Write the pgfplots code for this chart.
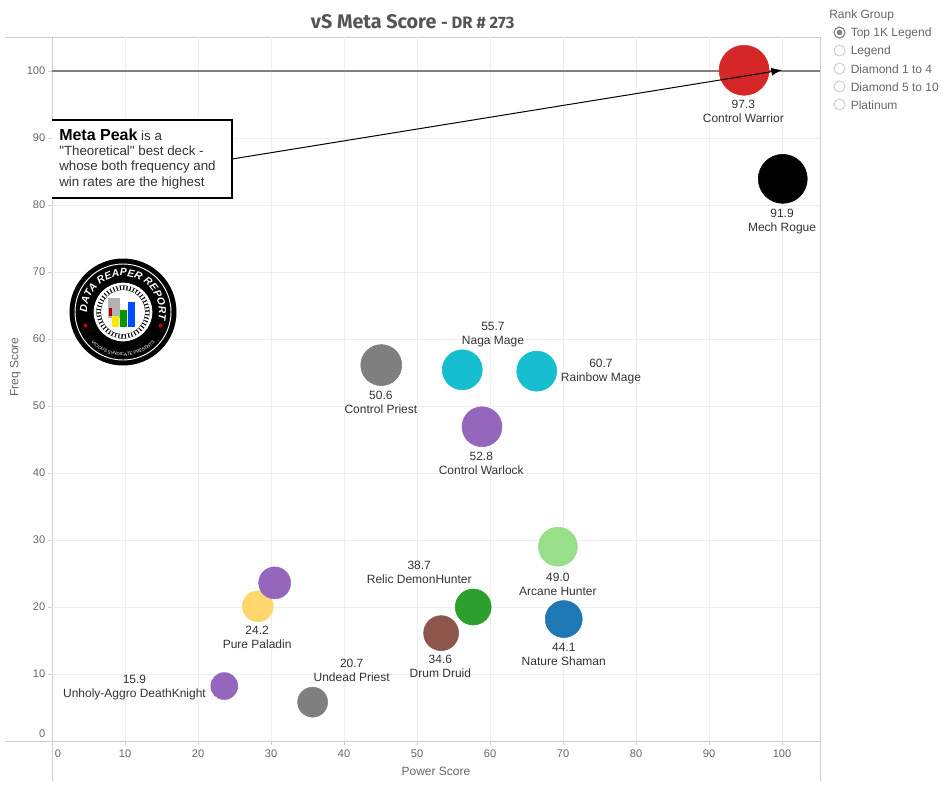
\documentclass[border=0pt]{standalone}
\usepackage{fontspec}
\setmainfont{Liberation Sans}
\newfontfamily\titlefont{Fira Sans}
\newfontfamily\qfont{Liberation Sans}
\usepackage{pgfplots}
\pgfplotsset{compat=1.18}
\usetikzlibrary{decorations.text,arrows.meta}

\definecolor{txt}{HTML}{333333}
\definecolor{ticktxt}{HTML}{666666}
\definecolor{titletxt}{HTML}{555555}
\definecolor{gridc}{HTML}{EEEEEE}
\definecolor{framec}{HTML}{D0D0D0}
\definecolor{tred}{HTML}{D62728}
\definecolor{tcyan}{HTML}{17BECF}
\definecolor{tpurple}{HTML}{9467BD}
\definecolor{tlgreen}{HTML}{98DF8A}
\definecolor{tblue}{HTML}{1F77B4}
\definecolor{tgreen}{HTML}{2CA02C}
\definecolor{tbrown}{HTML}{8C564B}
\definecolor{tyellow}{HTML}{FFD76E}
\definecolor{tgray}{HTML}{7F7F7F}

% mark size is in pixels of the reference: 1px = 0.75pt
\newcommand{\bubble}[4]{\addplot[only marks,mark=*,mark size=#4*0.75pt,color=#1,mark options={draw=#1,fill=#1}] coordinates {(#2,#3)};}
\newcommand{\lab}[4]{\node[font=\fontsize{9}{10.5}\selectfont,text=txt,align=center,inner sep=0pt] at (axis cs:#1,#2) {#3\\#4};}

\begin{document}
\begin{tikzpicture}[x=0.75pt,y=-0.75pt]
\path[use as bounding box] (0,0) rectangle (945,793);

% frame, runs past the axis as in the reference
\draw[framec,line width=0.75pt] (5,37) -- (820,37) (5,741) -- (820,741) (52,37) -- (52,782) (820,37) -- (820,782);

\begin{axis}[
    at={(39pt,-555.75pt)}, anchor=south west,
    scale only axis, width=576pt, height=528pt,
    xmin=0, xmax=105.2, ymin=0, ymax=105.07,
    axis line style={draw=none},
    clip=false,
    grid=major, major grid style={gridc,line width=0.6pt},
    xtick={10,20,...,100}, ytick={10,20,...,100},
    extra x ticks={0}, extra y ticks={0},
    extra x tick style={grid=none,xticklabel style={xshift=4.5pt}},
    extra y tick style={grid=none,yticklabel style={yshift=5.5pt}},
    tick align=outside, tick pos=left,
    major tick length=3pt,
    every tick/.style={framec,line width=0.6pt},
    ticklabel style={font=\fontsize{8.3}{10}\selectfont,text=ticktxt},
    /pgf/number format/assume math mode=true,
    xticklabel pos=lower,
    yticklabel style={xshift=1.5pt},
    xlabel={Power Score}, ylabel={Freq Score},
    label style={font=\fontsize{9}{10}\selectfont,text=ticktxt},
    xlabel style={at={(axis cs:52.6,-4.6)},anchor=center},
    ylabel style={at={(axis cs:-5.0,55.8)},anchor=center},
    title style={font=\titlefont\bfseries,text=titletxt,at={(axis cs:49.4,106.1)},anchor=center},
    title={\fontsize{14.8}{16}\selectfont vS Meta Score {\fontsize{12.4}{16}\selectfont - DR \# 273}},
]
% meta peak line
\addplot[color=gray,line width=1.5pt,forget plot] coordinates {(0,100) (105.2,100)};

\bubble{tred}{94.8}{100.1}{25}
\bubble{black}{100.1}{83.9}{24.5}
\bubble{tgray}{45.1}{56.1}{20.5}
\bubble{tcyan}{56.2}{55.4}{20}
\bubble{tcyan}{66.4}{55.2}{20}
\bubble{tpurple}{58.9}{46.9}{20}
\bubble{tlgreen}{69.3}{29.0}{19.5}
\bubble{tblue}{70.1}{18.2}{18.5}
\bubble{tgreen}{57.7}{20.0}{18}
\bubble{tbrown}{53.3}{16.1}{17.5}
\bubble{tyellow}{28.2}{20.1}{15.5}
\bubble{tpurple}{30.5}{23.6}{16}
\bubble{tpurple}{23.6}{8.2}{13.5}
\bubble{tgray}{35.7}{5.8}{15}

% labels
\lab{94.7}{93.97}{97.3}{Control Warrior}
\lab{100.0}{77.6}{91.9}{Mech Rogue}
\lab{60.4}{60.7}{55.7}{Naga Mage}
\lab{75.2}{55.1}{60.7}{Rainbow Mage}
\lab{45.05}{50.6}{50.6}{Control Priest}
\lab{58.8}{41.5}{52.8}{Control Warlock}
\lab{69.3}{23.4}{49.0}{Arcane Hunter}
\lab{70.1}{12.95}{44.1}{Nature Shaman}
\lab{50.3}{25.1}{38.7}{Relic DemonHunter}
\lab{53.2}{11.2}{34.6}{Drum Druid}
\lab{28.1}{15.4}{24.2}{Pure Paladin}
\lab{41.05}{10.5}{20.7}{Undead Priest}
\lab{11.3}{8.0}{15.9}{Unholy-Aggro DeathKnight}
\end{axis}

% callout
\fill[white] (52,120) rectangle (232,198);
\draw[black,line width=1.5pt] (52,120) -- (232,120) -- (232,198) -- (52,198);
\node[anchor=north west,align=left,inner sep=0pt,text=txt,font=\fontsize{10}{11.3}\selectfont] at (59,129)
  {{\fontsize{12}{12.5}\selectfont\bfseries\color{black}Meta Peak} is a\\{\qfont"Theoretical"} best deck -\\whose both frequency and\\win rates are the highest};
\draw[black,line width=0.75pt,-{Latex[length=8pt,width=6pt]}] (232,159) -- (782,70);

% data reaper logo
\begin{scope}[shift={(123,312)}]
\fill[black] (0,0) circle (53.5);
\draw[white,line width=0.7pt] (0,0) circle (48);
\draw[white,line width=2pt] (0,0) circle (28);
\draw[white,line width=3pt,dash pattern=on 1.5pt off 1pt] (0,0) circle (24.5);
\fill[white] (0,0) circle (22);
\path[decorate,decoration={text along path,text align=center,
      text={|\fontsize{7.8}{10}\selectfont\bfseries\itshape\color{white}|DATA REAPER REPORT}}]
  (176:36) arc[start angle=176,end angle=376,radius=36];
\path[decorate,decoration={text along path,text align=center,
      text={|\fontsize{3.4}{4}\selectfont\color{white}|VICIOUS SYNDICATE PRESENTS}}]
  (150:44) arc[start angle=150,end angle=30,radius=44];
\fill[red!80!black] (160:40) circle (2) (20:40) circle (2);
\fill[gray!60] (-15,-14) rectangle (-3,6);
\fill[red!70!black] (-14,-4) rectangle (-11,4);
\fill[yellow!90!orange] (-11,4) rectangle (-4,15);
\fill[green!60!black] (-3,-2) rectangle (4,15);
\fill[blue!70!cyan] (5,-10) rectangle (12,15);
\end{scope}

% rank group filter
\node[anchor=west,inner sep=0pt,text=ticktxt,font=\fontsize{9}{10}\selectfont] at (829,15) {Rank Group};
\foreach \yy/\tt in {32.5/Top 1K Legend,50.5/Legend,68.5/Diamond 1 to 4,86.5/Diamond 5 to 10,104.5/Platinum}{
  \draw[framec,line width=0.75pt,fill=white] (839.5,\yy) circle (5.5);
  \node[anchor=west,inner sep=0pt,text=ticktxt,font=\fontsize{9}{10}\selectfont] at (850.5,\yy+1) {\tt};
}
\draw[gray,line width=0.75pt] (839.5,32.5) circle (5.5);
\fill[gray] (839.5,32.5) circle (2.8);
\end{tikzpicture}
\end{document}
